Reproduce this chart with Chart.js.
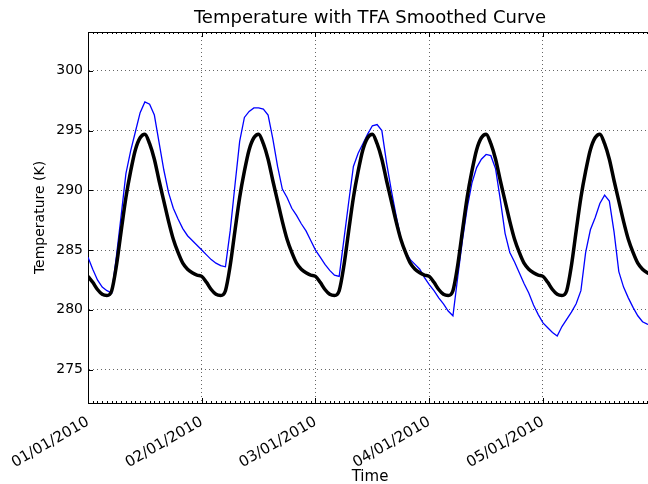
<!DOCTYPE html>
<html>
<head>
<meta charset="utf-8">
<title>Temperature with TFA Smoothed Curve</title>
<script src="https://cdn.jsdelivr.net/npm/chart.js@4.4.1/dist/chart.umd.min.js"></script>
<style>
  html, body { margin: 0; padding: 0; overflow: hidden; background: #fff; }
  #wrap { width: 660px; height: 484px; }
</style>
</head>
<body>
<div id="wrap"><canvas id="myChart"></canvas></div>
<script>
// hourly temperature (K), 01/01/2010 00:00 onwards
const temperature = [
  284.4, 283.4, 282.5, 281.9, 281.6, 281.4, 284.5, 287.9, 291.4, 293.3, 294.9, 296.5,
  297.4, 297.2, 296.3, 294.0, 291.7, 289.8, 288.5, 287.6, 286.8, 286.2, 285.8, 285.4,
  285.0, 284.6, 284.2, 283.9, 283.7, 283.6, 286.6, 290.4, 294.1, 296.1, 296.6, 296.9,
  296.9, 296.8, 296.3, 294.3, 292.0, 290.1, 289.4, 288.5, 287.9, 287.2, 286.6, 285.8,
  285.0, 284.4, 283.8, 283.3, 282.9, 282.8, 285.9, 289.0, 292.0, 293.1, 293.9, 294.7,
  295.4, 295.5, 295.0, 292.3, 290.0, 287.9, 286.0, 284.8, 284.2, 283.8, 283.4, 282.7,
  282.1, 281.6, 281.0, 280.5, 279.9, 279.5, 282.7, 285.8, 288.5, 290.6, 291.9, 292.6,
  293.0, 292.9, 291.8, 289.2, 286.4, 284.8, 284.0, 283.1, 282.2, 281.4, 280.4, 279.6,
  278.9, 278.5, 278.1, 277.8, 278.6, 279.2, 279.8, 280.5, 281.6, 284.8, 286.7, 287.7,
  288.9, 289.6, 289.1, 286.5, 283.2, 281.9, 281.0, 280.2, 279.5, 279.0, 278.8, 278.7
];

// TFA smoothed curve (K)
const tfaCurve = [
  282.8, 282.3, 281.7, 281.3, 281.2, 281.6, 283.7, 286.6, 289.4, 291.6, 293.4, 294.4,
  294.7, 293.9, 292.6, 290.8, 289.1, 287.4, 285.9, 284.8, 283.9, 283.4, 283.1, 282.9,
  282.8, 282.3, 281.7, 281.3, 281.2, 281.6, 283.7, 286.6, 289.4, 291.6, 293.4, 294.4,
  294.7, 293.9, 292.6, 290.8, 289.1, 287.4, 285.9, 284.8, 283.9, 283.4, 283.1, 282.9,
  282.8, 282.3, 281.7, 281.3, 281.2, 281.6, 283.7, 286.6, 289.4, 291.6, 293.4, 294.4,
  294.7, 293.9, 292.6, 290.8, 289.1, 287.4, 285.9, 284.8, 283.9, 283.4, 283.1, 282.9,
  282.8, 282.3, 281.7, 281.3, 281.2, 281.6, 283.7, 286.6, 289.4, 291.6, 293.4, 294.4,
  294.7, 293.9, 292.6, 290.8, 289.1, 287.4, 285.9, 284.8, 283.9, 283.4, 283.1, 282.9,
  282.8, 282.3, 281.7, 281.3, 281.2, 281.6, 283.7, 286.6, 289.4, 291.6, 293.4, 294.4,
  294.7, 293.9, 292.6, 290.8, 289.1, 287.4, 285.9, 284.8, 283.9, 283.4, 283.1, 282.9
];

const hours = temperature.map((_, i) => i);

const dayTicks = [0, 24, 48, 72, 96];
const dayLabels = ['01/01/2010', '02/01/2010', '03/01/2010', '04/01/2010', '05/01/2010'];
const tempTicks = [275, 280, 285, 290, 295, 300];

const family = '"DejaVu Sans", sans-serif';

// box frame with inward ticks, minor ticks every hour along top and bottom
const frameTicks = {
  id: 'frameTicks',
  afterDraw(chart) {
    const { ctx, chartArea: a, scales: { x, y } } = chart;
    ctx.save();
    ctx.strokeStyle = '#000';
    ctx.lineWidth = 1;
    ctx.beginPath();
    ctx.moveTo(a.left, Math.round(a.top) + 0.5);
    ctx.lineTo(a.right, Math.round(a.top) + 0.5);
    hours.forEach(h => {
      const px = Math.round(x.getPixelForValue(h)) + 0.5;
      const len = dayTicks.includes(h) ? 5 : 2;
      ctx.moveTo(px, a.bottom); ctx.lineTo(px, a.bottom - len);
      ctx.moveTo(px, a.top); ctx.lineTo(px, a.top + len);
    });
    tempTicks.forEach(v => {
      const py = Math.round(y.getPixelForValue(v)) + 0.5;
      ctx.moveTo(a.left, py); ctx.lineTo(a.left + 5, py);
    });
    ctx.stroke();
    ctx.restore();
  }
};

new Chart(document.getElementById('myChart'), {
  type: 'line',
  data: {
    labels: hours,
    datasets: [
      {
        label: 'TFA smoothed',
        data: tfaCurve,
        borderColor: '#000000',
        borderWidth: 3.5,
        pointRadius: 0,
        cubicInterpolationMode: 'monotone',
        fill: false
      },
      {
        label: 'Temperature',
        data: temperature,
        borderColor: '#0000ff',
        borderWidth: 1.3,
        pointRadius: 0,
        tension: 0,
        fill: false
      }
    ]
  },
  options: {
    responsive: true,
    maintainAspectRatio: false,
    animation: false,
    layout: { padding: { left: 0, right: 8, top: 0, bottom: 0 } },
    plugins: {
      legend: { display: false },
      tooltip: { enabled: false },
      title: {
        display: true,
        fullSize: false,
        text: 'Temperature with TFA Smoothed Curve',
        color: '#000',
        font: { family: family, size: 18, weight: 'normal' },
        padding: { top: 8, bottom: 2.4 }
      }
    },
    scales: {
      x: {
        type: 'linear',
        min: 0,
        max: 119,
        afterBuildTicks: s => { s.ticks = dayTicks.map(v => ({ value: v })); },
        afterFit: s => { s.height = 81; },
        ticks: {
          color: '#000',
          font: { family: family, size: 15 },
          minRotation: 30,
          maxRotation: 30,
          padding: 10,
          callback: v => dayLabels[dayTicks.indexOf(v)]
        },
        grid: { color: 'rgba(0,0,0,0.6)', lineWidth: 1, drawTicks: false },
        border: { display: true, color: '#000', width: 1, dash: [1, 3] },
        title: { display: true, text: 'Time', color: '#000', font: { family: family, size: 15 }, padding: { top: 0, bottom: -2 } }
      },
      y: {
        type: 'linear',
        min: 272.2,
        max: 303.25,
        afterBuildTicks: s => { s.ticks = tempTicks.map(v => ({ value: v })); },
        afterFit: s => { s.width = 88; },
        ticks: { color: '#000', font: { family: family, size: 14 }, padding: 5 },
        grid: { color: 'rgba(0,0,0,0.6)', lineWidth: 1, drawTicks: false },
        border: { display: true, color: '#000', width: 1, dash: [1, 3] },
        title: { display: true, text: 'Temperature (K)', color: '#000', font: { family: family, size: 14 }, padding: { top: 31.6 } }
      }
    }
  },
  plugins: [frameTicks]
});
</script>
</body>
</html>
